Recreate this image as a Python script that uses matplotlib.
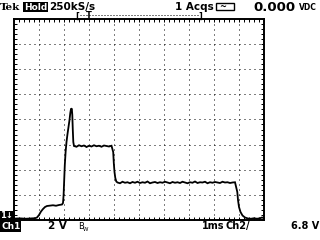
import matplotlib
matplotlib.use("Agg")
import matplotlib.pyplot as plt
from matplotlib.patches import Rectangle
import numpy as np

# scope settings (1 ms/div, 2 V/div, 10 x 8 divisions)
t_div = 1.0
v_div = 2.0

# trace: time in ms, Ch1 voltage in V
t_rise = [0.02, 0.26, 0.50, 0.74, 0.86, 0.94, 1.02, 1.10, 1.18, 1.26, 1.34,
          1.46, 1.58, 1.70, 1.82, 1.94, 1.98, 2.004, 2.028, 2.052, 2.084,
          2.12, 2.16, 2.20, 2.24, 2.272, 2.30, 2.332, 2.352, 2.372, 2.392]
v_rise = [0.07, 0.09, 0.06, 0.09, 0.10, 0.16, 0.36, 0.64, 0.84, 1.00, 1.08,
          1.11, 1.14, 1.10, 1.16, 1.20, 1.32, 1.96, 3.16, 4.36, 5.40,
          6.20, 6.84, 7.40, 7.96, 8.52, 8.84, 8.88, 8.36, 7.16, 6.20]

t_high = np.arange(2.42, 3.97, 0.1)
v_high = [5.88, 5.82, 5.94, 5.86, 5.92, 5.80, 5.90, 5.84, 5.94, 5.86,
          5.90, 5.82, 5.92, 5.88, 5.84, 5.90]

t_drop = [3.988, 4.012, 4.04, 4.072, 4.112]
v_drop = [5.40, 4.52, 3.80, 3.32, 3.04]

t_low = np.arange(4.16, 8.93, 0.1)
v_low = [2.96, 2.90, 3.02, 2.94, 2.98, 2.90, 3.00, 2.94, 3.02, 2.92,
         2.98, 2.94, 3.04, 2.90, 2.96, 3.00, 2.92, 2.98, 2.94, 3.02,
         2.96, 2.90, 3.00, 2.94, 2.98, 2.92, 3.02, 2.96, 2.90, 2.98,
         2.94, 3.04, 2.92, 2.98, 2.96, 3.02, 2.90, 2.98, 2.94, 3.00,
         2.96, 2.92, 3.02, 2.96, 2.98, 2.92, 2.96, 2.98]

t_fall = [8.952, 8.98, 9.02, 9.08, 9.16, 9.26, 9.38, 9.50, 9.62, 9.74,
          9.86, 9.94, 10.0]
v_fall = [2.20, 1.56, 1.00, 0.60, 0.32, 0.16, 0.08, 0.06, 0.10, 0.06,
          0.10, 0.16, 0.12]

t = np.concatenate([t_rise, t_high, t_drop, t_low, t_fall])
v = np.concatenate([v_rise, v_high, v_drop, v_low, v_fall])

W, H = 320, 240
fig = plt.figure(figsize=(3.2, 2.4), dpi=100)
fig.patch.set_facecolor("white")


def px(x, y):
    return x / W, 1 - y / H


ax = fig.add_axes([13.5 / W, 20.5 / H, 250 / W, 200 / H])
ax.set_xlim(0, 10 * t_div)
ax.set_ylim(0, 8 * v_div)
ax.set_xticks(np.arange(0, 10.01, t_div))
ax.set_yticks(np.arange(0, 16.01, v_div))
ax.set_xticks(np.arange(0, 10.01, 0.2 * t_div), minor=True)
ax.set_yticks(np.arange(0, 16.01, 0.2 * v_div), minor=True)
ax.tick_params(which="both", direction="in", top=True, right=True,
               length=2.5, width=0.72, labelbottom=False, labelleft=False)
ax.grid(which="major", color="black", linestyle=(0, (1, 4)), linewidth=0.72)
for s in ax.spines.values():
    s.set_linewidth(1.4)

ax.plot(t, v, color="black", linewidth=1.3, solid_joinstyle="miter")

# header
fig.text(*px(0, 10), "Tek", family="DejaVu Serif", weight="bold", fontsize=7.5)
fig.text(*px(24, 9.5), "Hold", family="DejaVu Sans", weight="bold", fontsize=6.5,
         color="white", bbox=dict(boxstyle="square,pad=0.1", fc="black", ec="none"))
fig.text(*px(49, 10), "250kS/s", weight="bold", fontsize=7.5)
fig.text(*px(175, 10), "1 Acqs", weight="bold", fontsize=7.5)
fig.patches.append(Rectangle(px(216, 10), 18 / W, 7 / H, transform=fig.transFigure,
                             fill=False, ec="black", lw=1))
fig.text(*px(219, 9), "~", weight="bold", fontsize=6)
fig.text(*px(253, 11), "0.000", weight="bold", fontsize=9.5)
fig.text(*px(299, 10), "VDC", weight="bold", fontsize=5.5)

# record bar
fig.text(*px(75, 19), "[", fontsize=6, weight="bold")
fig.text(*px(198, 19), "]", fontsize=6, weight="bold")
fig.text(*px(86, 18.5), "T", fontsize=6, weight="bold")
fig.lines.append(plt.Line2D([80 / W, 198 / W], [1 - 15 / H, 1 - 15 / H],
                            transform=fig.transFigure, color="black",
                            linestyle=(0, (1, 2)), linewidth=0.72))

# ground marker and footer
fig.text(*px(0.5, 218.5), "1\u2193", weight="bold", fontsize=6, color="white",
         bbox=dict(boxstyle="square,pad=0.1", fc="black", ec="none"))
fig.text(*px(1, 229), "Ch1", weight="bold", fontsize=6.5, color="white",
         bbox=dict(boxstyle="square,pad=0.1", fc="black", ec="none"))
fig.text(*px(48, 229), "2 V", weight="bold", fontsize=7.5)
fig.text(*px(78, 229), "B", fontsize=6)
fig.text(*px(83, 231), "W", fontsize=4)
fig.text(*px(202, 229), "1ms", weight="bold", fontsize=7)
fig.text(*px(226, 229), "Ch2", weight="bold", fontsize=7)
fig.text(*px(246, 229), "/", weight="bold", fontsize=7)
fig.text(*px(291, 229), "6.8 V", weight="bold", fontsize=7)

fig.savefig("out.png", dpi=100)
